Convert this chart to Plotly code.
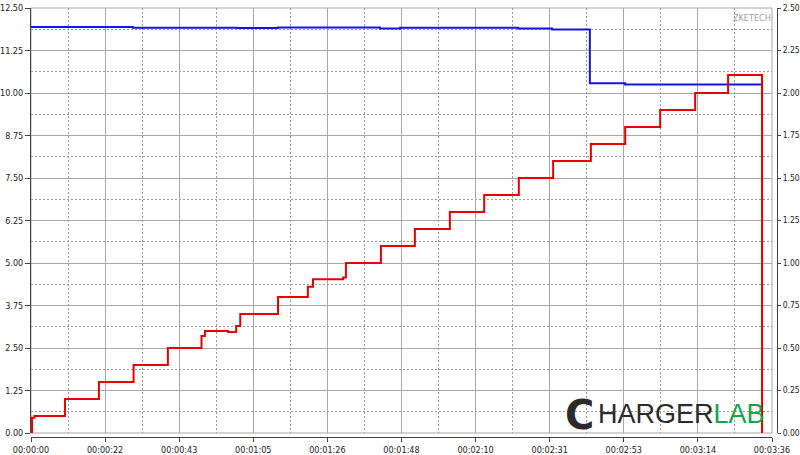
import plotly.graph_objects as go

# ---- data ----
# current (A, right axis)
cur_t = [0, 0.3, 1.0, 9.9, 19.8, 29.9, 39.9, 49.7, 50.7, 57.4, 59.8, 61.0, 72.0, 80.7, 82.2,
         91.0, 91.8, 102.0, 111.9, 122.1, 132.1, 142.2, 152.2, 163.2, 173.2, 183.4, 193.6,
         203.2, 213.1]
cur_a = [0.0, 0.09, 0.10, 0.20, 0.30, 0.40, 0.50, 0.57, 0.60, 0.594, 0.63, 0.70, 0.80, 0.86, 0.905,
         0.915, 1.00, 1.10, 1.20, 1.30, 1.40, 1.50, 1.60, 1.70, 1.80, 1.90, 2.00,
         2.106, 0.0]
# voltage (V, left axis)
volt_t = [0, 29.7, 60.0, 72.0, 101.7, 107.6, 142.0, 151.9, 162.9, 173.2, 213.1]
volt_v = [11.94, 11.92, 11.91, 11.93, 11.90, 11.92, 11.90, 11.87, 10.29, 10.25, 10.25]

x_tickvals = [0, 21.6, 43.2, 64.8, 86.4, 108, 129.6, 151.2, 172.8, 194.4, 216]
x_ticktext = ["00:00:00", "00:00:22", "00:00:43", "00:01:05", "00:01:26", "00:01:48",
              "00:02:10", "00:02:31", "00:02:53", "00:03:14", "00:03:36"]
yl_tickvals = [0, 1.25, 2.5, 3.75, 5, 6.25, 7.5, 8.75, 10, 11.25, 12.5]
yl_ticktext = ["0.00", "1.25", "2.50", "3.75", "5.00", "6.25", "7.50", "8.75", "10.00", "11.25", "12.50"]
yr_tickvals = [0, 0.25, 0.5, 0.75, 1.0, 1.25, 1.5, 1.75, 2.0, 2.25, 2.5]
yr_ticktext = ["0.00", "0.25", "0.50", "0.75", "1.00", "1.25", "1.50", "1.75", "2.00", "2.25", "2.50"]

W, H = 800, 455
ML, MR, MT, MB = 31, 23, 8, 18
PW, PH = W - ML - MR, H - MT - MB


def px(x):
    return (x - ML) / PW


def py(y):
    return (H - MB - y) / PH


FONT = "DejaVu Sans Condensed, Liberation Sans Narrow, Arial Narrow, Liberation Sans, Arial, sans-serif"
TICKFONT = dict(family=FONT, size=9, color="#222222")
DOTS = "2px,2px"

fig = go.Figure()
fig.add_trace(go.Scatter(x=volt_t, y=volt_v, mode="lines", line=dict(color="#1414e0", width=2, shape="hv"),
                         yaxis="y", showlegend=False, hoverinfo="skip"))
fig.add_trace(go.Scatter(x=cur_t, y=cur_a, mode="lines", line=dict(color="#e80000", width=2, shape="hv"),
                         yaxis="y2", showlegend=False, hoverinfo="skip"))

fig.update_layout(
    width=W, height=H,
    margin=dict(l=ML, r=MR, t=MT, b=MB, autoexpand=False),
    paper_bgcolor="white", plot_bgcolor="white",
    xaxis=dict(range=[0, 216], domain=[0, (772 - ML) / PW], anchor="free", position=0, automargin=False,
               tickvals=x_tickvals, ticktext=x_ticktext, tickfont=TICKFONT,
               ticks="outside", ticklen=4, tickcolor="#444444",
               showline=True, linecolor="#444444", linewidth=1,
               showgrid=True, gridcolor="#a8a8a8", gridwidth=1, zeroline=False,
               minor=dict(tickvals=[10.8 + 21.6 * i for i in range(10)], showgrid=True,
                          gridcolor="#9a9a9a", griddash=DOTS, gridwidth=1, ticks="")),
    yaxis=dict(range=[0, 12.5], domain=[4 / PH, 1], anchor="x", automargin=False,
               tickvals=yl_tickvals, ticktext=yl_ticktext, tickfont=TICKFONT,
               ticks="outside", ticklen=5, tickcolor="#444444",
               showline=True, linecolor="#444444", linewidth=1,
               showgrid=True, gridcolor="#a8a8a8", gridwidth=1, zeroline=False,
               minor=dict(tickvals=[0.625 + 1.25 * i for i in range(10)], showgrid=True,
                          gridcolor="#9a9a9a", griddash=DOTS, gridwidth=1, ticks="")),
    yaxis2=dict(range=[0, 2.5], overlaying="y", side="right", anchor="free", position=1, automargin=False,
                tickvals=yr_tickvals, ticktext=yr_ticktext,
                tickfont=dict(family=FONT, size=8.5, color="#222222"),
                ticks="outside", ticklen=3, tickcolor="#444444",
                showline=True, linecolor="#444444", linewidth=1,
                showgrid=False, zeroline=False),
    shapes=[dict(type="rect", xref="paper", yref="paper", x0=0, x1=px(772), y0=py(433), y1=1,
                 line=dict(color="#a8a8a8", width=1), layer="below")],
    annotations=[
        dict(text="ZKETECH", xref="paper", yref="paper", x=px(752), y=py(18), showarrow=False,
             font=dict(family=FONT, size=9, color="#a0a0a0"), xanchor="center", yanchor="middle"),
        dict(text="<b>C</b>", xref="paper", yref="paper", x=px(579), y=py(415), showarrow=False,
             font=dict(family="DejaVu Sans, Arial", size=40, color="#2b2b2b"),
             xanchor="center", yanchor="middle"),
        dict(text="HARGER<span style='color:#18a34a'>LAB</span>", xref="paper", yref="paper",
             x=px(596), y=py(414), showarrow=False,
             font=dict(family="Liberation Sans, Arial", size=27, color="#2b2b2b"),
             xanchor="left", yanchor="middle"),
    ],
)

fig.write_html("out.html", config={"displayModeBar": False},
               post_script="document.body.style.margin='0';")
